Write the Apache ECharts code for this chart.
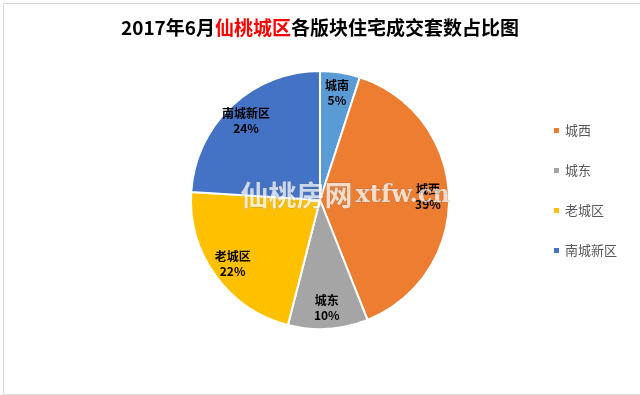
<!DOCTYPE html>
<html><head><meta charset="utf-8">
<script src="https://cdn.jsdelivr.net/npm/echarts@6/dist/echarts.min.js"></script>
<style>html,body{margin:0;padding:0;background:#fff}#c{width:640px;height:395px}</style>
</head><body><div id="c"></div>
<script>
const categories = ['城南', '城西', '城东', '老城区', '南城新区'];
const values = [5, 39, 10, 22, 24];
const colors = ['#5B9BD5', '#ED7D31', '#A5A5A5', '#FFC000', '#4472C4'];
const legendItems = ['城西', '城东', '老城区', '南城新区'];

const font = '"Noto Sans CJK SC", "Microsoft YaHei", sans-serif';
const data = categories.map((n, i) => ({ name: n, value: values[i], itemStyle: { color: colors[i] } }));
const chart = echarts.init(document.getElementById('c'));
chart.setOption({
  backgroundColor: '#fff',
  animation: false,
  title: {
    text: '{a|2017年6月}{r|仙桃城区}{a|各版块住宅成交套数占比图}',
    left: 'center', top: 13,
    textStyle: {
      rich: {
        a: { fontSize: 19, fontWeight: 'bold', color: '#000', fontFamily: font },
        r: { fontSize: 19, fontWeight: 'bold', color: '#FF0000', fontFamily: font }
      }
    }
  },
  legend: {
    data: legendItems,
    orient: 'vertical',
    left: 547, top: 119,
    itemWidth: 7, itemHeight: 7, itemGap: 27,
    icon: 'rect',
    textStyle: { fontSize: 13, color: '#595959', fontFamily: font }
  },
  series: [{
    type: 'pie',
    center: [320, 200],
    radius: [0, 129],
    startAngle: 90,
    clockwise: true,
    data: data,
    label: { show: false },
    labelLine: { show: false },
    itemStyle: { borderColor: '#fff', borderWidth: 2 },
    emphasis: { disabled: true }
  }, {
    type: 'pie',
    center: [320, 200],
    radius: [72, 138],
    startAngle: 90,
    clockwise: true,
    silent: true,
    legendHoverLink: false,
    data: categories.map((n, i) => ({ name: n, value: values[i] })),
    itemStyle: { color: 'rgba(0,0,0,0)' },
    label: {
      show: true, position: 'inside',
      formatter: '{b}\n{d}%',
      fontSize: 12, fontWeight: 'bold', color: '#000', fontFamily: font, lineHeight: 15
    },
    labelLine: { show: false }
  }],
  graphic: [{
    type: 'rect', left: 1, top: 1,
    shape: { width: 637, height: 391 },
    style: { fill: 'none', stroke: '#d9d9d9', lineWidth: 1 },
    silent: true
  }, {
    type: 'text', left: 240, top: 181, z: 100,
    style: {
      text: '{c|仙桃房网}{e|xtfw.cn}',
      rich: {
        c: { font: 'bold 28px "Noto Sans CJK SC", sans-serif', fill: 'rgba(255,255,255,0.72)', stroke: 'rgba(110,110,110,0.35)', lineWidth: 1 },
        e: { font: 'bold 24px "DejaVu Serif", serif', fill: 'rgba(255,255,255,0.72)', stroke: 'rgba(110,110,110,0.35)', lineWidth: 1, padding: [0, 0, 0, 3] }
      }
    },
    silent: true
  }]
});
</script></body></html>
